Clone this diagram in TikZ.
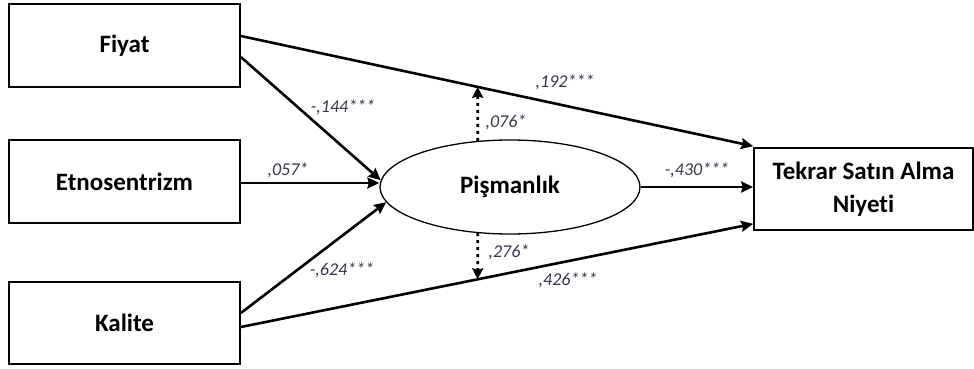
\documentclass[tikz,border=0pt]{standalone}
\usepackage{fontspec}
\setmainfont{Carlito}[Ligatures=CommonOff]
\usetikzlibrary{arrows.meta,calc,shapes.geometric}
\definecolor{lblcol}{RGB}{50,55,72}
\tikzset{
  boxnode/.style={draw,line width=1.7pt,minimum width=231pt,font=\bfseries\fontsize{25}{33}\selectfont,align=center,inner sep=0pt},
  pisnode/.style={draw,ellipse,line width=1.3pt,minimum width=260pt,minimum height=94pt,font=\bfseries\fontsize{25}{30}\selectfont,inner sep=0pt},
  conn/.style={line width=2.6pt,-{Stealth[length=12pt,width=11pt,inset=1.5pt]}},
  dotconn/.style={line width=2.8pt,dash pattern=on 3pt off 4pt,-{Stealth[length=11pt,width=11pt,inset=1.5pt]}},
  lbl/.style={font=\itshape\fontsize{18}{22}\selectfont,text=lblcol,inner sep=0pt}
}
\begin{document}
\begin{tikzpicture}[x=1pt,y=-1pt]
\useasboundingbox (0,0) rectangle (974,369);
\node[boxnode,minimum height=83pt] (fiyat) at (124.5,45.5) {Fiyat};
\node[boxnode,minimum height=83pt] (etno) at (124.5,181.5) {Etnosentrizm};
\node[boxnode,minimum height=82pt] (kalite) at (124.5,323) {Kalite};
\node[boxnode,minimum width=219pt,minimum height=82pt] (tekrar) at (863.5,189) {Tekrar Satın Alma\\Niyeti};
\node[pisnode] (pis) at (510,187) {Pişmanlık};

\coordinate (f1) at ($(fiyat.east)+(0,-9.5)$);
\coordinate (f2) at ($(fiyat.east)+(0,11.5)$);
\coordinate (k1) at ($(kalite.east)+(0,-10)$);
\coordinate (k2) at ($(kalite.east)+(0,4)$);
\coordinate (t1) at ($(tekrar.north west)+(0,-1)$);
\coordinate (t3) at ($(tekrar.south west)+(0,-7)$);
\coordinate (pu) at (pis.125);
\coordinate (pd) at (pis.235);
\coordinate (pu2) at ($(pu)+(0,-80)$);
\coordinate (pd2) at ($(pd)+(0,80)$);
\coordinate (mu) at (intersection of f1--t1 and pu--pu2);
\coordinate (md) at (intersection of k2--t3 and pd--pd2);

\draw[conn] (f1) -- (t1);
\draw[conn] (f2) -- (pis.177);
\draw[conn] ($(etno.east)+(0,1.5)$) -- ($(pis.west)+(0,-4)$);
\draw[conn] (k1) -- (pis.187);
\draw[conn] (k2) -- (t3);
\draw[conn] (pis.east) -- (pis.east -| tekrar.west);
\draw[dotconn] (pu) -- (mu);
\draw[dotconn] (pd) -- (md);

\node[lbl] (l192) at (565,82) {,192***};
\node[lbl] (l076) at (506,122) {,076*};
\node[lbl] (l430) at (697,170) {-,430***};
\node[lbl] (l276) at (509,252) {,276*};
\node[lbl] (l426) at (568,280) {,426***};
\node[lbl] (l144) at (343,107) {-,144***};
\node[lbl] (l057) at (288,170) {,057*};
\node[lbl] (l624) at (342,270) {-,624***};
\end{tikzpicture}
\end{document}
